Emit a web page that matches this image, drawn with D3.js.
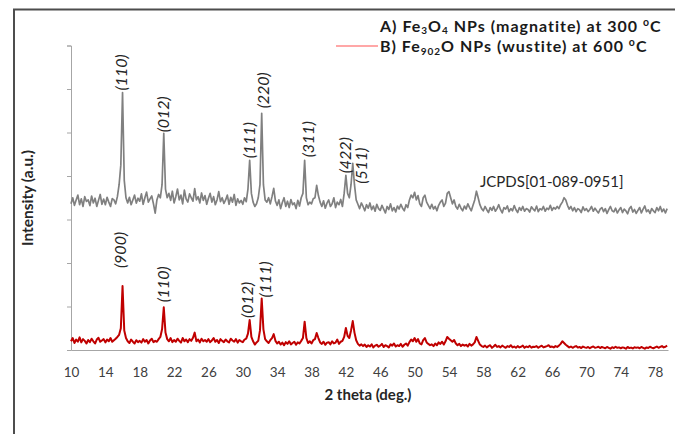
<!DOCTYPE html>
<html>
<head>
<meta charset="utf-8">
<script src="https://cdn.jsdelivr.net/npm/d3@7"></script>
<style>
  body { margin: 0; background: #fff; }
  svg { display: block; }
</style>
</head>
<body>
<svg id="chart" width="675" height="434"></svg>
<script>
// XRD scans sampled every 0.2 deg of 2-theta, starting at 10 deg
const thetaStart = 10;
const thetaStep = 0.2;

// A) Fe3O4 NPs (magnatite) at 300 °C — intensity (a.u.)
const magnetite = [
  672, 700, 665, 690, 712, 668, 695, 660, 705, 683,
  690, 664, 708, 676, 698, 660, 688, 715, 670, 694,
  668, 702, 680, 660, 696, 690, 672, 705, 760, 850,
  1184, 780, 700, 676, 702, 668, 690, 712, 675, 698,
  684, 718, 670, 700, 726, 680, 695, 708, 672, 629,
  690, 715, 700, 760, 996, 740, 700, 720, 688, 730,
  676, 705, 740, 690, 712, 672, 735, 695, 680, 718,
  700, 684, 742, 690, 705, 676, 722, 688, 710, 670,
  698, 720, 680, 705, 668, 690, 728, 682, 700, 674,
  690, 712, 670, 702, 680, 715, 665, 695, 676, 688,
  670, 700, 682, 740, 872, 720, 680, 660, 672, 700,
  760, 1088, 760, 690, 680, 700, 672, 705, 743, 685,
  665, 690, 650, 678, 700, 660, 684, 655, 692, 668,
  676, 650, 688, 662, 700, 720, 872, 700, 668, 680,
  672, 695, 700, 757, 710, 680, 660, 686, 652, 675,
  690, 660, 672, 700, 655, 680, 668, 692, 660, 720,
  803, 720, 700, 760, 858, 760, 690, 670, 650, 676,
  660, 640, 668, 652, 676, 645, 662, 638, 670, 650,
  642, 665, 648, 630, 660, 646, 672, 640, 655, 635,
  662, 648, 670, 652, 640, 668, 655, 690, 712, 700,
  725, 690, 710, 672, 660, 700, 712, 680, 665, 650,
  670, 648, 660, 640, 665, 680, 690, 660, 675, 720,
  728, 700, 672, 690, 660, 648, 670, 652, 640, 662,
  648, 672, 655, 640, 665, 690, 730, 700, 668, 650,
  640, 660, 645, 632, 655, 642, 660, 638, 650, 668,
  645, 630, 655, 648, 662, 636, 650, 640, 664, 645,
  632, 655, 642, 660, 638, 650, 646, 634, 658, 648,
  640, 662, 636, 650, 644, 660, 638, 652, 646, 665,
  642, 655, 648, 660, 650, 668, 680, 700, 690, 665,
  648, 660, 640, 655, 636, 650, 645, 632, 658, 642,
  650, 636, 646, 660, 638, 652, 640, 630, 648, 655,
  636, 650, 628, 645, 660, 640, 635, 652, 630, 644,
  655, 632, 648, 640, 626, 650, 660, 634, 646, 628,
  642, 655, 630, 648, 662, 636, 644, 628, 650, 640,
  632, 655, 640, 660, 636, 648, 630, 650
];

// B) Fe902O NPs (wustite) at 600 °C — intensity (a.u.)
const wustite = [
  40, 55, 32, 48, 38, 58, 35, 50, 42, 30,
  46, 36, 52, 40, 30, 48, 56, 38, 44, 50,
  35, 48, 40, 55, 38, 45, 52, 60, 70, 100,
  294, 90, 55, 40, 32, 48, 38, 30, 45, 36,
  42, 34, 50, 38, 46, 30, 44, 52, 36, 42,
  38, 50, 60, 95, 196, 80, 50, 40, 55, 36,
  46, 38, 52, 42, 34, 55, 40, 48, 36, 50,
  42, 56, 80, 40, 48, 35, 52, 40, 46, 38,
  50, 36, 44, 55, 38, 46, 32, 50, 42, 36,
  48, 40, 35, 52, 44, 38, 50, 34, 46, 40,
  36, 48, 52, 75, 138, 60, 40, 25, 35, 42,
  90, 237, 95, 50, 40, 32, 45, 55, 73, 42,
  30, 38, 25, 34, 22, 36, 28, 40, 26, 32,
  38, 24, 35, 30, 42, 55, 130, 55, 32, 40,
  30, 45, 50, 78, 55, 35, 28, 38, 24, 34,
  36, 26, 40, 30, 34, 48, 28, 38, 42, 60,
  101, 65, 55, 90, 133, 80, 45, 28, 20, 26,
  18, 25, 14, 22, 16, 26, 12, 20, 24, 15,
  20, 28, 14, 22, 18, 12, 26, 20, 30, 16,
  22, 18, 28, 15, 24, 30, 20, 36, 48, 40,
  55, 38, 50, 30, 26, 45, 55, 35, 28, 22,
  26, 18, 30, 22, 35, 28, 38, 25, 40, 60,
  52, 45, 38, 46, 30, 22, 28, 18, 25, 20,
  24, 16, 28, 20, 26, 35, 60, 42, 25, 18,
  14, 20, 12, 18, 22, 10, 16, 24, 14, 18,
  12, 20, 15, 10, 18, 14, 22, 12, 16, 10,
  18, 12, 15, 20, 10, 16, 13, 19, 11, 15,
  14, 18, 10, 16, 20, 12, 15, 18, 22, 14,
  16, 12, 18, 14, 20, 28, 40, 32, 24, 18,
  12, 16, 10, 15, 18, 11, 14, 9, 16, 12,
  10, 14, 8, 13, 16, 10, 12, 15, 9, 14,
  11, 8, 14, 10, 6, 13, 9, 15, 10, 12,
  8, 12, 10, 6, 14, 9, 11, 7, 13, 10,
  12, 8, 14, 10, 6, 12, 9, 15, 11, 8,
  12, 16, 10, 14, 18, 12, 15, 20
];

// Miller indices of the indexed reflections and their 2-theta
const magnetiteHkl   = ["(110)", "(012)", "(111)", "(220)", "(311)", "(422)", "(511)"];
const magnetiteTheta = [16.0, 20.8, 30.8, 32.2, 37.2, 42.0, 43.0];
const wustiteHkl     = ["(900)", "(110)", "(012)", "(111)"];
const wustiteTheta   = [16.0, 20.8, 30.8, 32.2];

const xTickValues = [10, 14, 18, 22, 26, 30, 34, 38, 42, 46, 50, 54, 58, 62, 66, 70, 74, 78];
const yTickValues = [0, 200, 400, 600, 800, 1000, 1200, 1400];

const seriesColors = { magnetite: "#808080", wustite: "#c00000" };
const font = "Lato, 'Open Sans', sans-serif";

const svg = d3.select("#chart");

// outer chart frame (top and left edges visible)
svg.append("path")
  .attr("d", "M14,434 L14,9.5 L675,9.5")
  .attr("fill", "none")
  .attr("stroke", "#4d4d4d")
  .attr("stroke-width", 2);

const x = d3.scaleLinear().domain([10, 79.5]).range([71, 668]);
const y = d3.scaleLinear().domain([0, 1400]).range([350, 45.5]);

const toPoints = arr => arr.map((v, i) => ({ t: thetaStart + i * thetaStep, v }));
const magPts = toPoints(magnetite);
const wusPts = toPoints(wustite);

// y axis: ticks only, no labels
const yAxis = svg.append("g")
  .attr("transform", "translate(71,0)")
  .call(d3.axisLeft(y).tickValues(yTickValues).tickSize(4).tickFormat(""));
yAxis.select(".domain").attr("stroke", "#a6a6a6");
yAxis.selectAll(".tick line").attr("stroke", "#a6a6a6");

// x axis: labels only
const xAxis = svg.append("g")
  .attr("transform", "translate(0,350)")
  .call(d3.axisBottom(x).tickValues(xTickValues).tickSize(0).tickPadding(17).tickSizeOuter(0));
xAxis.select(".domain").attr("stroke", "#a6a6a6");
xAxis.selectAll(".tick text")
  .attr("font-family", font)
  .attr("font-size", "13.5px")
  .attr("fill", "#404040");

const line = d3.line().x(d => x(d.t)).y(d => y(d.v));

svg.append("path").datum(magPts)
  .attr("d", line).attr("fill", "none")
  .attr("stroke", seriesColors.magnetite).attr("stroke-width", 1.7)
  .attr("stroke-linejoin", "round");

svg.append("path").datum(wusPts)
  .attr("d", line).attr("fill", "none")
  .attr("stroke", seriesColors.wustite).attr("stroke-width", 2)
  .attr("stroke-linejoin", "round");

// hkl labels, vertical text above each reflection
const valueAt = (arr, t) => arr[Math.round((t - thetaStart) / thetaStep)];
function hklLabels(names, thetas, arr, nudgeX, lift) {
  names.forEach((name, i) => {
    const px = x(thetas[i]) + nudgeX[i];
    const py = y(valueAt(arr, thetas[i])) - lift[i];
    svg.append("text")
      .attr("transform", `translate(${px},${py}) rotate(-90)`)
      .attr("dy", "0.35em")
      .attr("font-family", font)
      .attr("font-style", "italic")
      .attr("font-size", "16px")
      .attr("fill", "#262626")
      .text(name);
  });
}
hklLabels(magnetiteHkl, magnetiteTheta, magnetite,
  [-1, 0, 0, 2, 4, 0, 7], [2, 1, 2, 5, 3, 2, 1]);
hklLabels(wustiteHkl, wustiteTheta, wustite,
  [-2, 0, -2, 3.5], [18, 5, 2, 1]);

svg.append("text")
  .attr("x", 480).attr("y", 186.5)
  .attr("font-family", font)
  .attr("font-size", "15px")
  .attr("fill", "#262626")
  .text("JCPDS[01-089-0951]");

// axis titles
svg.append("text")
  .attr("x", 368).attr("y", 400)
  .attr("text-anchor", "middle")
  .attr("font-family", font)
  .attr("font-weight", "bold")
  .attr("font-size", "15px")
  .attr("fill", "#262626")
  .text("2 theta (deg.)");

svg.append("text")
  .attr("transform", "translate(28,198) rotate(-90)")
  .attr("dy", "0.35em")
  .attr("text-anchor", "middle")
  .attr("font-family", font)
  .attr("font-weight", "bold")
  .attr("font-size", "15.5px")
  .attr("fill", "#262626")
  .text("Intensity (a.u.)");

// legend
function legendEntry(yBase, parts) {
  const t = svg.append("text")
    .attr("x", 380).attr("y", yBase)
    .attr("font-family", font)
    .attr("font-weight", "bold")
    .attr("font-size", "16px")
    .attr("letter-spacing", "1px")
    .attr("fill", "#1a1a1a");
  parts.forEach(p => {
    const s = t.append("tspan").text(p.s);
    if (p.sub) s.attr("font-size", "10px").attr("dy", 2.5);
    if (p.sup) s.attr("font-size", "10.5px").attr("dy", -6);
    if (p.back) s.attr("dy", p.back);
  });
}
legendEntry(31.5, [
  { s: "A) Fe" }, { s: "3", sub: true }, { s: "O", back: -2.5 }, { s: "4", sub: true },
  { s: " NPs (magnatite) at 300 ", back: -2.5 }, { s: "o", sup: true }, { s: "C", back: 6 }
]);
legendEntry(52, [
  { s: "B) Fe" }, { s: "902", sub: true }, { s: "O NPs  (wustite) at 600 ", back: -2.5 },
  { s: "o", sup: true }, { s: "C", back: 6 }
]);
svg.append("line")
  .attr("x1", 336).attr("x2", 378).attr("y1", 46).attr("y2", 46)
  .attr("stroke", "#ff8a8a").attr("stroke-width", 1.5);
</script>
</body>
</html>
